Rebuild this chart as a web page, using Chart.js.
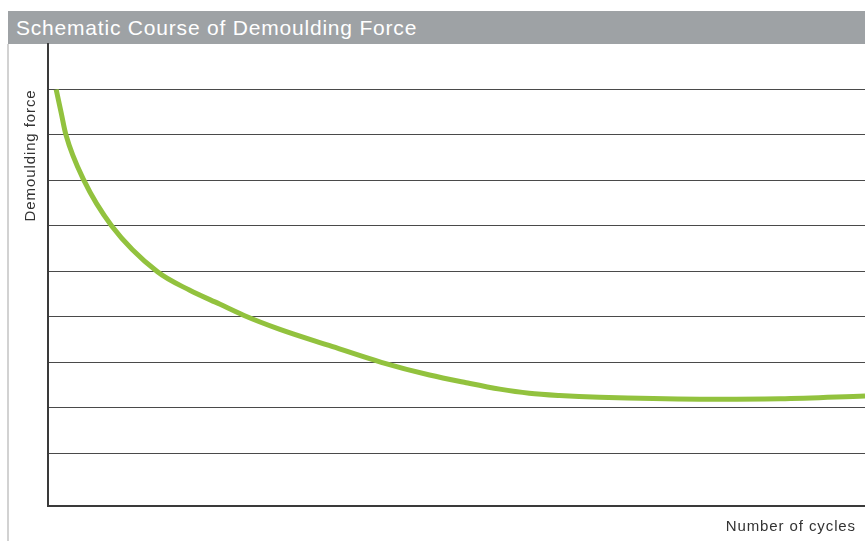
<!DOCTYPE html>
<html>
<head>
<meta charset="utf-8">
<script src="https://cdn.jsdelivr.net/npm/chart.js@4"></script>
<style>
  html, body { margin: 0; padding: 0; background: #fff; }
  body { width: 865px; height: 541px; position: relative; overflow: hidden; font-family: "Liberation Sans", Arial, sans-serif; }
  #titleBar {
    position: absolute; left: 8px; top: 11px; width: 857px; height: 33px;
    background: #9ea2a5; color: #fff; font-size: 21px; letter-spacing: 0.8px; line-height: 33px;
    padding-left: 8px; box-sizing: border-box; white-space: nowrap;
  }
  #leftRule { position: absolute; left: 7px; top: 44px; width: 2px; height: 497px; background: #d2d2d2; }
  #chartBox { position: absolute; left: 0; top: 0; width: 865px; height: 541px; }
</style>
</head>
<body>
<div id="titleBar">Schematic Course of Demoulding Force</div>
<div id="leftRule"></div>
<div id="chartBox"><canvas id="myChart"></canvas></div>
<script>
// Number of cycles (schematic, 0-100 across the plot)
const cycles = [1.0, 1.6, 2.2, 4.4, 7.8, 13.4, 17.3, 21.0, 24.0, 28.3, 34.4, 40.8, 46.7, 51.2, 55.3, 58.9, 62.6, 67.5, 79.8, 89.6, 100];
// Demoulding force (schematic, grid units)
const force = [9.0, 8.5, 8.0, 7.0, 6.0, 4.99, 4.59, 4.28, 4.03, 3.73, 3.37, 3.0, 2.72, 2.55, 2.41, 2.32, 2.27, 2.23, 2.19, 2.20, 2.26];
// Horizontal grid lines
const gridTicks = [1, 2, 3, 4, 5, 6, 7, 8, 9];

const axisLabels = {
  id: 'axisLabels',
  afterDraw(chart) {
    const ctx = chart.ctx;
    const area = chart.chartArea;
    ctx.save();
    ctx.fillStyle = '#333';
    ctx.font = '15px "Liberation Sans", Arial, sans-serif';
    ctx.letterSpacing = '0.9px';
    ctx.textBaseline = 'alphabetic';
    // x axis label, bottom right
    ctx.textAlign = 'right';
    ctx.fillText('Number of cycles', area.right - 9, area.bottom + 25);
    // y axis label, rotated, top left
    ctx.translate(area.left - 13, chart.scales.y.getPixelForValue(9));
    ctx.rotate(-Math.PI / 2);
    ctx.textAlign = 'right';
    ctx.fillText('Demoulding force', 0, 0);
    ctx.restore();
  }
};

const ctx = document.getElementById('myChart').getContext('2d');
new Chart(ctx, {
  type: 'line',
  data: {
    datasets: [{
      data: cycles.map((c, i) => ({ x: c, y: force[i] })),
      borderColor: '#92c23e',
      borderWidth: 5,
      pointRadius: 0,
      cubicInterpolationMode: 'monotone',
      fill: false
    }]
  },
  options: {
    responsive: true,
    maintainAspectRatio: false,
    animation: false,
    layout: { padding: { left: 48, top: 44, right: 0, bottom: 35 } },
    scales: {
      x: {
        type: 'linear',
        min: 0,
        max: 100,
        ticks: { display: false },
        grid: { display: false, drawTicks: false },
        border: { display: true, color: '#3a3a3a', width: 2 }
      },
      y: {
        min: -0.16,
        max: 10,
        afterBuildTicks: (scale) => { scale.ticks = gridTicks.map(v => ({ value: v })); },
        ticks: { display: false },
        grid: { color: '#4a4a4a', lineWidth: 1, drawTicks: false },
        border: { display: true, color: '#3a3a3a', width: 2 }
      }
    },
    plugins: {
      legend: { display: false },
      tooltip: { enabled: false }
    }
  },
  plugins: [axisLabels]
});
</script>
</body>
</html>
